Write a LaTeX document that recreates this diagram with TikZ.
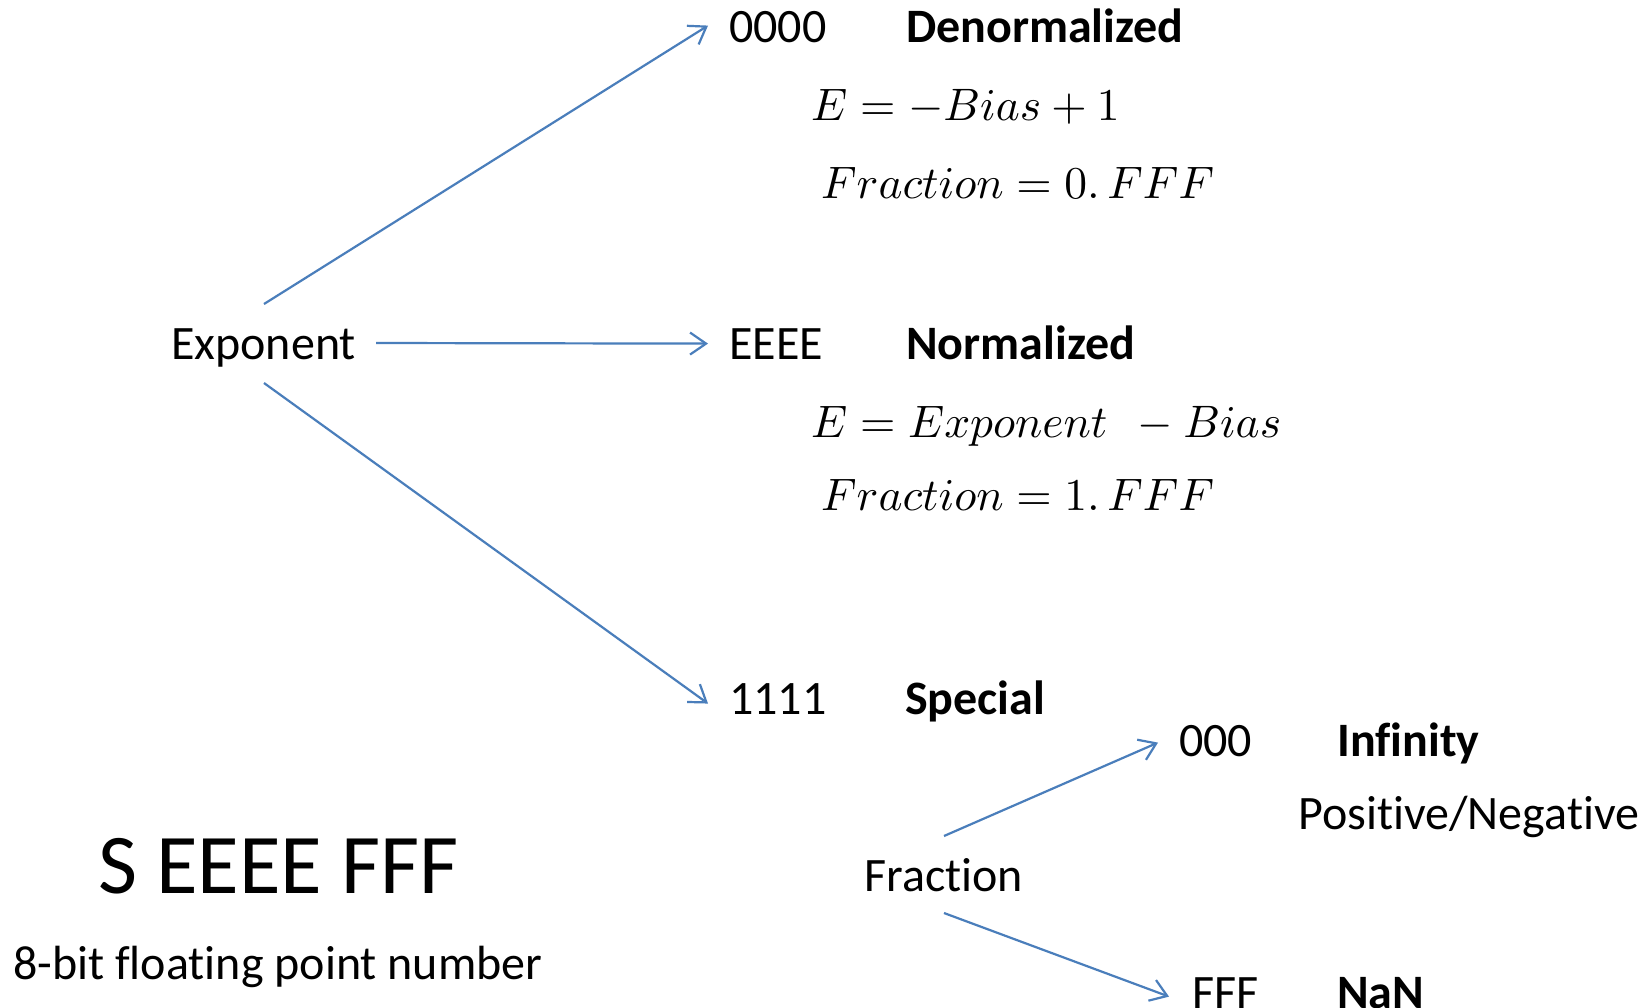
\documentclass[tikz,border=0pt]{standalone}
\usepackage[no-math]{fontspec}
\setmainfont{Carlito}[Ligatures={NoCommon,NoRare,NoContextual}]
\usepackage{graphicx}
\usetikzlibrary{arrows.meta}
\definecolor{arrblue}{HTML}{4A7EBB}
\newcommand{\bigmath}[1]{\scalebox{4.55}{$#1$}}
\newcommand{\nlg}{\kern0pt}
\tikzset{
  txt/.style={anchor=base west, inner sep=0pt, font=\fontsize{48}{58}\selectfont},
  btxt/.style={txt, font=\fontsize{48}{58}\selectfont\bfseries},
  mth/.style={anchor=base west, inner sep=0pt},
  big/.style={anchor=base west, inner sep=0pt, font=\fontsize{85}{100}\selectfont},
  conn/.style={draw=arrblue, line width=2.2pt, -{Straight Barb[length=16pt,width=22pt,line width=2.2pt]}},
}
\begin{document}
\begin{tikzpicture}[x=1pt, y=-1pt]
\useasboundingbox (0,0) rectangle (1648,1007);
\clip (0,0) rectangle (1648,1007);
\fill[white] (0,0) rectangle (1648,1007);
% left labels
\node[txt] (exp) at (171,359) {Exponent};
\node[big] (word) at (98,893) {S EEEE FFF};
\node[txt] (cap) at (13,979) {8-bit f\nlg loat\nlg ing point number};
% denormalized
\node[txt] (d0) at (729,42) {0000};
\node[btxt] (d0t) at (906,42) {Denormalized};
\node[mth] (d0e) at (811,120) {\bigmath{E = -Bias + 1}};
\node[mth] (d0f) at (821,198) {\bigmath{Fraction = 0.\,FFF}};
% normalized
\node[txt] (n0) at (729,359) {EEEE};
\node[btxt] (n0t) at (906,359) {Normalized};
\node[mth] (n0e) at (811,437) {\bigmath{E = Exponent\;\, - Bias}};
\node[mth] (n0f) at (821,510) {\bigmath{Fraction = 1.\,FFF}};
% special
\node[txt] (s0) at (729,714) {1111};
\node[btxt] (s0t) at (905,714) {Special};
\node[txt] (frac) at (864,891) {Fraction};
\node[txt] (i0) at (1179,756) {000};
\node[btxt] (i0t) at (1337,756) {Inf\nlg init\nlg y};
\node[txt] (i0s) at (1298,829) {Posit\nlg ive/Negat\nlg ive};
\node[txt] (nan) at (1192,1008) {FFF};
\node[btxt] (nant) at (1337,1008) {NaN};
% connector start points
\coordinate (eUp) at (264,304);
\coordinate (eRt) at (376,343);
\coordinate (eDn) at (264,383);
\coordinate (fUp) at (944,836);
\coordinate (fDn) at (944,913);
% connectors
\draw[conn] (eUp) -- ([xshift=-21pt,yshift=1pt]d0.west);
\draw[conn] (eRt) -- ([xshift=-21pt]n0.west);
\draw[conn] (eDn) -- ([xshift=-21pt,yshift=-5pt]s0.west);
\draw[conn] (fUp) -- ([xshift=-21pt,yshift=-2pt]i0.west);
\draw[conn] (fDn) -- ([xshift=-23pt,yshift=-4pt]nan.west);
\end{tikzpicture}
\end{document}
